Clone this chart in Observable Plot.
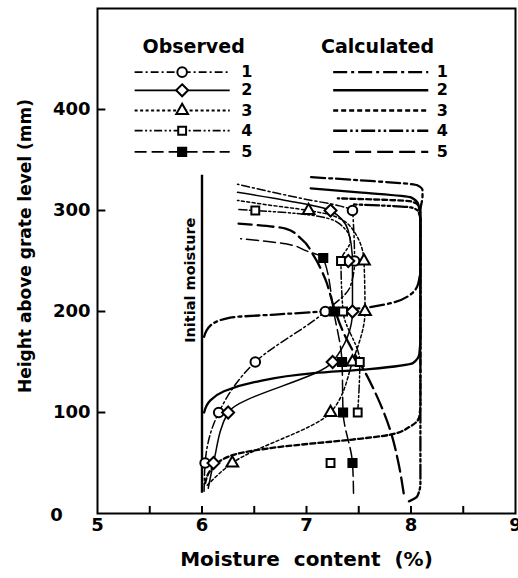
<!DOCTYPE html>
<html><head><meta charset="utf-8">
<script src="https://cdn.jsdelivr.net/npm/d3@7"></script>
<script src="https://cdn.jsdelivr.net/npm/@observablehq/plot@0.6"></script>
<style>html,body{margin:0;padding:0;background:#fff}#chart svg{display:block}</style>
</head><body><div id="chart"></div>
<script>
// ---- data ----
const xTickLabels = [5, 6, 7, 8, 9];
const xMinorTicks = [5.5, 6, 6.5, 7, 7.5, 8, 8.5];
const yTickLabels = [100, 200, 300, 400];
const yZeroLabel = ["0"];
const seriesIds = ["1", "2", "3", "4", "5"];
const initialMoisture = 6.0;
const initialMoistureSpan = [20, 335];

// observed points [moisture %, height mm]
const obs1 = [[6.03,50],[6.16,100],[6.51,150],[7.18,200],[7.46,250],[7.44,300]];
const obs2 = [[6.11,50],[6.25,100],[7.25,150],[7.44,200],[7.40,250],[7.23,300]];
const obs3 = [[6.29,50],[7.23,100],[7.44,150],[7.56,200],[7.55,250],[7.02,300]];
const obs4 = [[7.23,50],[7.49,100],[7.51,150],[7.35,200],[7.33,250],[6.51,300]];
const obs5 = [[7.44,50],[7.35,100],[7.34,150],[7.26,200],[7.16,253]];

// observed connecting lines
const obsLine1 = [[6.02,22],[6.03,50],[6.16,100],[6.51,150],[7.18,200],[7.42,225],[7.46,250],[7.45,285],[7.44,300],[7.3,305],[7.0,311],[6.34,326]];
const obsLine2 = [[6.06,25],[6.11,50],[6.25,100],[7.25,150],[7.44,200],[7.44,250],[7.40,280],[7.23,300],[6.8,310],[6.34,318]];
const obsLine3 = [[6.05,28],[6.29,50],[7.23,100],[7.44,150],[7.56,200],[7.55,250],[7.45,280],[7.25,295],[7.02,300],[6.6,306],[6.34,310]];
const obsLine4 = [[7.49,100],[7.51,150],[7.35,200],[7.33,250],[7.42,270],[7.30,288],[7.0,296],[6.51,300],[6.34,301]];
const obsLine5 = [[7.45,20],[7.44,50],[7.35,100],[7.34,150],[7.26,200],[7.16,253],[7.0,260],[6.8,267],[6.37,272]];

// calculated curves
const calc1 = [[6.02,175],[6.08,186],[6.27,194],[6.7,197],[7.16,200],[7.5,203],[7.75,207],[7.97,215],[8.07,228],[8.09,245],[8.09,300],[8.11,314],[8.11,320],[8.06,325],[7.5,330],[7.04,333]];
const calc2 = [[6.02,100],[6.08,112],[6.21,121],[6.5,130],[7.07,139],[7.6,143],[8.02,149],[8.08,158],[8.09,175],[8.09,292],[8.07,306],[8.0,313],[7.5,318],[7.04,322]];
const calc3 = [[6.03,30],[6.1,45],[6.3,58],[6.75,66],[7.42,73],[7.8,78],[7.99,86],[8.08,96],[8.09,110],[8.09,295],[8.07,305],[8.0,309],[7.3,312]];
const calc4 = [[7.98,12],[8.06,17],[8.09,30],[8.09,290],[8.07,299],[8.0,303],[7.45,306]];
const calc5 = [[7.93,20],[7.88,50],[7.80,83],[7.7,110],[7.55,142],[7.45,160],[7.35,180],[7.26,205],[7.18,232],[7.07,255],[6.95,272],[6.8,282],[6.35,287]];

const xLabel = "Moisture\u00a0 content\u00a0 (%)";
const yLabel = "Height above grate level (mm)";
const initLabel = "Initial moisture";
const legendTitles = ["Observed", "Calculated"];

// ---- styles ----
const obsPoints = [obs1, obs2, obs3, obs4, obs5];
const obsLines = [obsLine1, obsLine2, obsLine3, obsLine4, obsLine5];
const calcLines = [calc1, calc2, calc3, calc4, calc5];
const obsDash = ["8,3,2,3", null, "3,2.5", "8,2.5,2,2.5,2,2.5", "12,5"];
const calcDash = ["14,4,3,4", null, "5,3", "14,3,2.5,3,2.5,3", "16,6"];
const symbols = ["circle", "diamond2", "triangle2", "square2", "square"];
const fills = ["white", "white", "white", "white", "black"];
const radii = [4.8, 5.4, 5.6, 5.0, 4.6];

// legend layout (in data units)
const legendRows = [437, 419, 399, 379, 358];

const marks = [];
marks.push(Plot.frame({stroke: "black", strokeWidth: 2}));
marks.push(Plot.ruleX(xMinorTicks, {x: d => d, y1: 0, y2: 7, stroke: "black", strokeWidth: 2}));
marks.push(Plot.ruleY(yTickLabels, {y: d => d, x1: 5, x2: 5.08, stroke: "black", strokeWidth: 2}));
marks.push(Plot.axisX(xTickLabels, {tickSize: 0, tickPadding: 5, fontSize: 18, fontWeight: "bold", label: null}));
marks.push(Plot.axisY(yTickLabels, {tickSize: 0, tickPadding: 7, fontSize: 18, fontWeight: "bold", label: null}));
marks.push(Plot.text(yZeroLabel, {x: () => 5, y: () => 0, text: d => d, dx: -41, dy: 2, fontSize: 18, fontWeight: "bold"}));
marks.push(Plot.text([xLabel], {frameAnchor: "bottom", text: d => d, textAnchor: "middle", dy: 52, fontSize: 20, fontWeight: "bold"}));
marks.push(Plot.text([yLabel], {frameAnchor: "left", text: d => d, textAnchor: "middle", dx: -72, dy: -15, rotate: -90, fontSize: 17, fontWeight: "bold"}));

// initial moisture
marks.push(Plot.ruleX([initialMoisture], {x: d => d, y1: initialMoistureSpan[0], y2: initialMoistureSpan[1], stroke: "black", strokeWidth: 2.4}));
marks.push(Plot.text([initLabel], {x: () => 5.885, y: () => 231, text: d => d, rotate: -90, fontSize: 14.5, fontWeight: "bold"}));

// calculated curves
calcLines.forEach((c, i) => {
  marks.push(Plot.line(c, {x: d => d[0], y: d => d[1], curve: "monotone-y", stroke: "black", strokeWidth: 2.3, strokeDasharray: calcDash[i]}));
});
// observed lines
obsLines.forEach((c, i) => {
  marks.push(Plot.line(c, {x: d => d[0], y: d => d[1], curve: "monotone-y", stroke: "black", strokeWidth: 1.5, strokeDasharray: obsDash[i]}));
});
// observed markers
obsPoints.forEach((p, i) => {
  marks.push(Plot.dot(p, {x: d => d[0], y: d => d[1], symbol: symbols[i], r: radii[i], fill: fills[i], stroke: "black", strokeWidth: 2}));
});

// legend
marks.push(Plot.text([legendTitles[0]], {x: () => 5.92, y: () => 462, text: d => d, fontSize: 19, fontWeight: "bold"}));
marks.push(Plot.text([legendTitles[1]], {x: () => 7.68, y: () => 462, text: d => d, fontSize: 19, fontWeight: "bold"}));
seriesIds.forEach((id, i) => {
  const yy = legendRows[i];
  marks.push(Plot.ruleY([yy], {y: d => d, x1: 5.36, x2: 6.27, stroke: "black", strokeWidth: 1.8, strokeDasharray: obsDash[i]}));
  marks.push(Plot.dot([yy], {x: () => 5.81, y: d => d, symbol: symbols[i], r: radii[i], fill: fills[i], stroke: "black", strokeWidth: 2}));
  marks.push(Plot.text([id], {x: () => 6.43, y: () => yy, text: d => d, fontSize: 16, fontWeight: "bold"}));
  marks.push(Plot.ruleY([yy], {y: d => d, x1: 7.26, x2: 8.17, stroke: "black", strokeWidth: 2.4, strokeDasharray: calcDash[i]}));
  marks.push(Plot.text([id], {x: () => 8.30, y: () => yy, text: d => d, fontSize: 16, fontWeight: "bold"}));
});

const chart = Plot.plot({
  width: 518,
  height: 578,
  marginLeft: 97,
  marginRight: 3,
  marginTop: 8,
  marginBottom: 65,
  x: {domain: [5, 9]},
  y: {domain: [0, 500]},
  style: {fontFamily: "'DejaVu Sans', sans-serif", background: "white", color: "black", overflow: "visible"},
  marks
});
document.getElementById("chart").append(chart);
</script>
</body></html>
